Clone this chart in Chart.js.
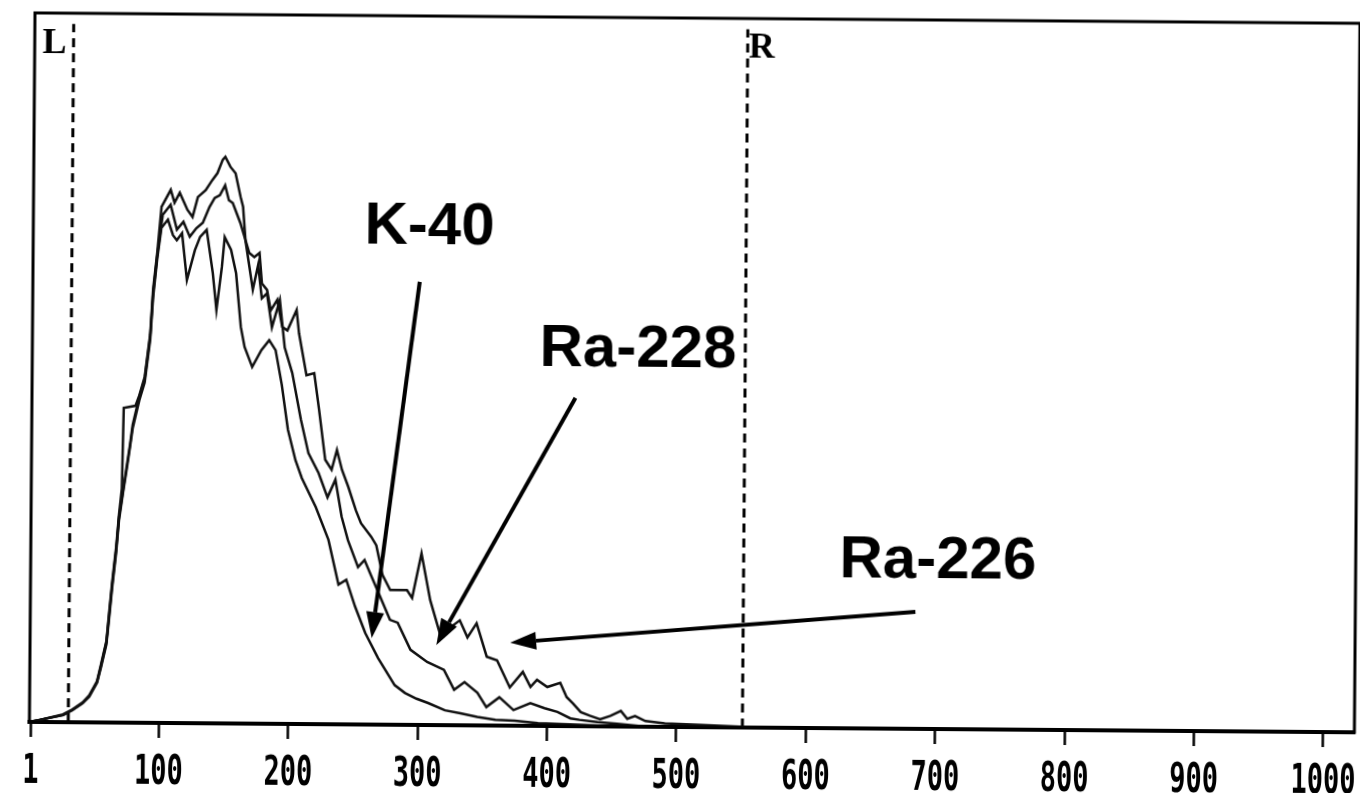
<!DOCTYPE html>
<html>
<head>
<meta charset="utf-8">
<title>Spectrum K-40 / Ra-228 / Ra-226</title>
<script src="https://cdn.jsdelivr.net/npm/chart.js@4.4.1/dist/chart.umd.min.js"></script>
<style>
  html, body { margin: 0; padding: 0; background: #fff; overflow: hidden; }
  #wrap { width: 1360px; height: 793px; }
  #spectrum { display: block; transform: rotate(0.45deg); transform-origin: 50% 50%; }
</style>
</head>
<body>
<div id="wrap"><canvas id="spectrum" width="1360" height="793"></canvas></div>
<script>
// K-40
const k40Channels = [0, 8, 26, 33, 41, 46, 52, 55, 59, 61, 63, 66, 68, 71, 74, 76, 78, 83, 87, 91,
    93, 96, 99, 104, 108, 111, 115, 119, 125, 129, 134, 139, 142, 146, 148, 153, 157, 161, 164, 170,
    177, 183, 188, 193, 198, 204, 209, 220, 230, 238, 244, 251, 259, 269, 282, 290, 299, 308, 321, 333,
    346, 360, 375, 393, 424, 455];
const k40Counts = [0, 3, 10, 17, 27, 36, 56, 78, 110, 148, 188, 240, 285, 325, 362, 388, 415, 455, 480, 540,
    600, 655, 698, 710, 688, 681, 691, 625, 667, 686, 696, 635, 583, 644, 686, 668, 635, 559, 531, 503,
    527, 541, 527, 478, 415, 372, 347, 306, 260, 197, 204, 166, 129, 94, 56, 45, 37, 31, 21, 17,
    12, 8, 7, 4, 2, 0];

// Ra-228
const ra228Channels = [0, 8, 26, 33, 41, 46, 52, 55, 59, 61, 63, 66, 68, 71, 74, 76, 78, 83, 87, 91,
    93, 96, 100, 106, 111, 116, 121, 126, 131, 136, 140, 144, 148, 151, 154, 160, 164, 167, 170, 174,
    177, 181, 185, 191, 195, 201, 208, 214, 222, 229, 235, 240, 245, 253, 258, 263, 268, 278, 284, 294,
    307, 320, 328, 336, 346, 353, 363, 374, 387, 398, 408, 418, 425, 439, 454, 477];
const ra228Counts = [0, 3, 10, 17, 27, 37, 57, 80, 113, 152, 192, 244, 290, 328, 366, 391, 420, 460, 485, 545,
    606, 660, 717, 731, 696, 707, 686, 698, 706, 728, 741, 745, 759, 738, 734, 706, 682, 647, 612, 647,
    600, 607, 559, 598, 531, 495, 429, 382, 354, 320, 345, 293, 260, 222, 232, 211, 190, 148, 144, 106,
    89, 78, 50, 61, 46, 26, 40, 22, 32, 25, 20, 11, 9, 6, 4, 0];

// Ra-226
const ra226Channels = [0, 8, 26, 33, 41, 46, 52, 55, 59, 61, 63, 66, 68, 70, 71, 80, 83, 87, 91, 93,
    96, 99, 106, 109, 113, 119, 123, 127, 133, 138, 142, 146, 148, 152, 156, 160, 162, 164, 167, 171,
    175, 177, 181, 184, 189, 193, 197, 204, 206, 212, 218, 222, 227, 232, 236, 240, 245, 251, 255, 263,
    267, 272, 278, 291, 295, 302, 309, 317, 324, 332, 338, 345, 353, 361, 371, 381, 387, 392, 400, 410,
    415, 420, 426, 433, 441, 449, 457, 462, 468, 476, 491, 519, 565];
const ra226Counts = [0, 3, 11, 18, 28, 38, 58, 82, 115, 156, 196, 248, 294, 330, 444, 447, 462, 488, 548, 612,
    664, 728, 752, 734, 748, 724, 714, 742, 752, 766, 776, 795, 799, 785, 776, 743, 729, 682, 664, 658,
    664, 621, 612, 583, 598, 560, 555, 584, 551, 492, 495, 443, 373, 359, 387, 359, 335, 302, 284, 265,
    253, 211, 190, 190, 179, 242, 176, 127, 137, 148, 124, 144, 97, 92, 54, 76, 55, 65, 55, 61,
    41, 32, 20, 15, 10, 15, 22, 11, 15, 8, 5, 3, 0];

// counting window markers
const windowNames = ['L', 'R'];
const windowChannels = [30, 551];
const windowTop = 985;

const xTickValues = [1, 100, 200, 300, 400, 500, 600, 700, 800, 900, 1000];

// callouts: label anchor and arrow (tail -> head) in channel / counts
const noteLabels = ['K-40', 'Ra-228', 'Ra-226'];
const noteTextChannels = [256, 392, 625];
const noteTextCounts = [679, 508, 213];
const arrowFromChannels = [299, 420, 684];
const arrowFromCounts = [625, 463, 165];
const arrowToChannels = [264, 314, 371];
const arrowToCounts = [122, 113, 117];

function toPoints(xs, ys) {
    return xs.map((c, i) => ({ x: c, y: ys[i] }));
}

function spectrumSet(label, xs, ys, width) {
    return {
        label: label,
        data: toPoints(xs, ys),
        borderColor: '#111',
        borderWidth: width,
        pointRadius: 0,
        tension: 0,
        fill: false
    };
}

function drawArrow(ctx, x1, y1, x2, y2) {
    const ang = Math.atan2(y2 - y1, x2 - x1);
    const headLen = 26, headHalf = 9;
    const bx = x2 - headLen * Math.cos(ang);
    const by = y2 - headLen * Math.sin(ang);
    ctx.beginPath();
    ctx.moveTo(x1, y1);
    ctx.lineTo(bx, by);
    ctx.lineWidth = 4;
    ctx.stroke();
    ctx.beginPath();
    ctx.moveTo(x2, y2);
    ctx.lineTo(bx + headHalf * Math.sin(ang), by - headHalf * Math.cos(ang));
    ctx.lineTo(bx - headHalf * Math.sin(ang), by + headHalf * Math.cos(ang));
    ctx.closePath();
    ctx.fill();
}

const spectrumDecor = {
    id: 'spectrumDecor',
    afterDraw(chart) {
        const { ctx, chartArea: a, scales: { x, y } } = chart;
        ctx.save();
        ctx.strokeStyle = '#000';
        ctx.fillStyle = '#000';

        // plot frame
        ctx.lineWidth = 3;
        ctx.strokeRect(a.left, a.top, a.right - a.left, a.bottom - a.top);

        // window letters
        ctx.font = 'bold 36px "Liberation Serif"';
        ctx.textBaseline = 'alphabetic';
        ctx.textAlign = 'right';
        ctx.fillText(windowNames[0], x.getPixelForValue(windowChannels[0]) - 7, a.top + 40);
        ctx.textAlign = 'left';
        ctx.fillText(windowNames[1], x.getPixelForValue(windowChannels[1]) + 1, a.top + 39);

        // channel labels, tall and narrow
        ctx.font = 'bold 27px "DejaVu Sans Mono"';
        ctx.textAlign = 'center';
        ctx.save();
        ctx.scale(1, 1.5);
        xTickValues.forEach(v => {
            ctx.fillText(String(v), x.getPixelForValue(v), (a.bottom + 61) / 1.5);
        });
        ctx.restore();

        // nuclide callouts
        ctx.font = 'bold 60px "Liberation Sans"';
        ctx.textAlign = 'left';
        noteLabels.forEach((t, i) => {
            ctx.fillText(t, x.getPixelForValue(noteTextChannels[i]), y.getPixelForValue(noteTextCounts[i]));
            drawArrow(ctx,
                x.getPixelForValue(arrowFromChannels[i]), y.getPixelForValue(arrowFromCounts[i]),
                x.getPixelForValue(arrowToChannels[i]), y.getPixelForValue(arrowToCounts[i]));
        });
        ctx.restore();
    }
};

const windowSets = windowNames.map((n, i) => ({
    label: n,
    data: [{ x: windowChannels[i], y: 0 }, { x: windowChannels[i], y: windowTop }],
    borderColor: '#000',
    borderWidth: 3,
    borderDash: [9, 6],
    pointRadius: 0
}));

new Chart(document.getElementById('spectrum'), {
    type: 'line',
    data: {
        datasets: [
            spectrumSet('K-40', k40Channels, k40Counts, 2.5),
            spectrumSet('Ra-228', ra228Channels, ra228Counts, 2.5),
            spectrumSet('Ra-226', ra226Channels, ra226Counts, 2.5)
        ].concat(windowSets)
    },
    options: {
        responsive: false,
        animation: false,
        devicePixelRatio: 1,
        layout: { padding: { left: 32, right: 3, top: 18, bottom: 51 } },
        plugins: { legend: { display: false }, tooltip: { enabled: false } },
        scales: {
            x: {
                type: 'linear',
                min: 0,
                max: 1024,
                afterBuildTicks: scale => { scale.ticks = xTickValues.map(v => ({ value: v })); },
                ticks: { display: false },
                grid: {
                    display: true,
                    drawOnChartArea: false,
                    drawTicks: true,
                    tickLength: 15,
                    tickWidth: 2.5,
                    tickColor: '#000'
                },
                border: { display: true, color: '#000', width: 4 }
            },
            y: { display: false, min: 0, max: 1000 }
        }
    },
    plugins: [spectrumDecor]
});
</script>
</body>
</html>
